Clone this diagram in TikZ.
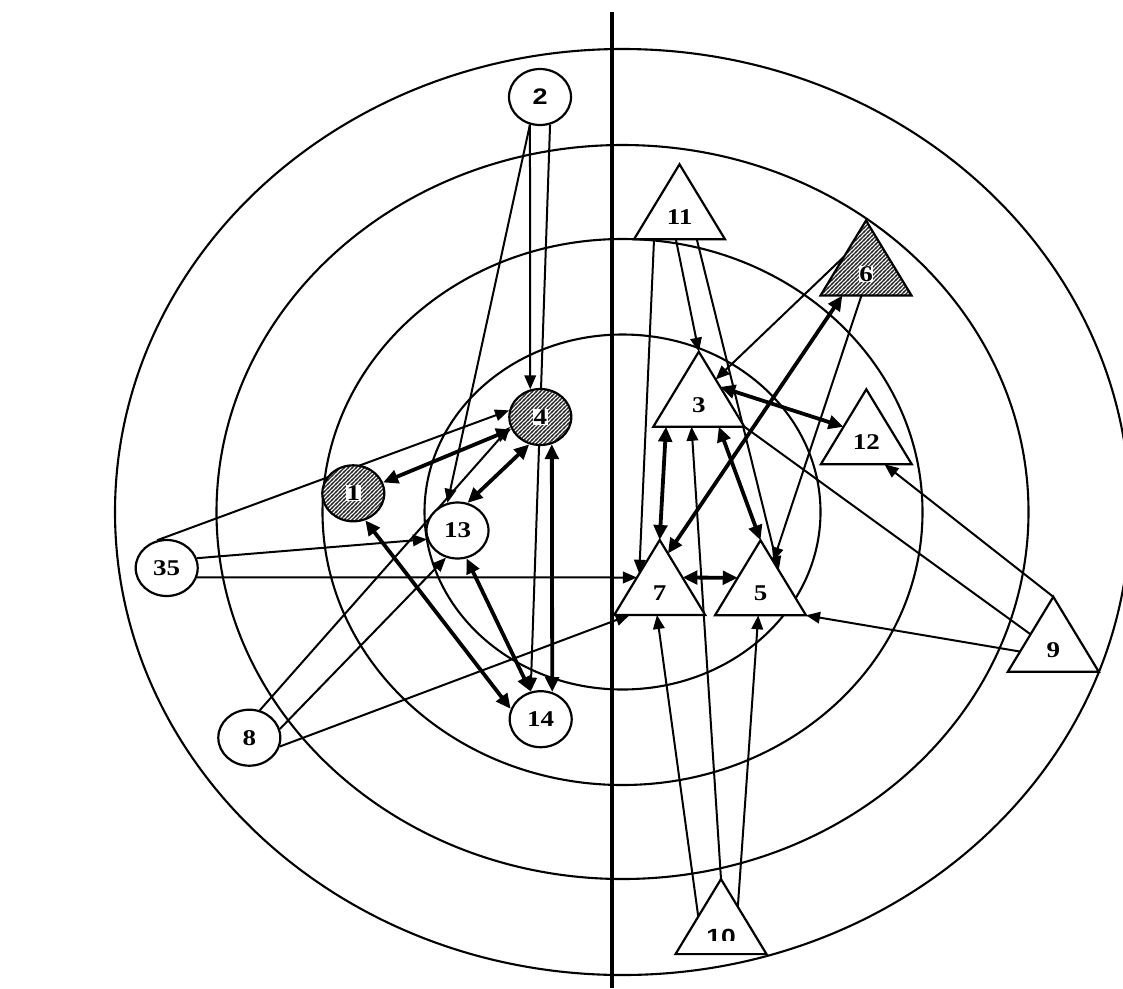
\documentclass[tikz,border=0pt]{standalone}
\usepackage{fontspec}
\setmainfont{Liberation Serif}
\newfontfamily\lblserif{Liberation Serif}[FakeStretch=1.2]
\newfontfamily\sansbf{Liberation Sans}[FakeStretch=1.2]
\usetikzlibrary{arrows.meta,shapes.geometric,patterns,calc}

\pgfdeclarepatternformonly{hatchne}{\pgfqpoint{-1pt}{-1pt}}{\pgfqpoint{5pt}{5pt}}{\pgfqpoint{4pt}{4pt}}{%
  \pgfsetlinewidth{1.2pt}%
  \pgfpathmoveto{\pgfqpoint{-1pt}{-1pt}}%
  \pgfpathlineto{\pgfqpoint{5pt}{5pt}}%
  \pgfusepath{stroke}%
}

\pgfdeclarelayer{bg}
\pgfdeclarelayer{mid}
\pgfsetlayers{bg,mid,main}

\newcommand\mytri[5]{%
  \node[tribox] (#1) at (#2,#3) {};
  \draw[#5] (#1.north) -- (#1.south east) -- (#1.south west) -- cycle;
}

\begin{document}
\begin{tikzpicture}[x=1pt,y=-1pt,
  lbl/.style={font=\lblserif\fontsize{22.5}{22.5}\selectfont\bfseries},
  circ/.style={ellipse,draw,line width=2.2pt,minimum width=62pt,minimum height=56pt,inner sep=0pt,lbl},
  wcirc/.style={circ,fill=white},
  hcirc/.style={circ,preaction={fill=white},pattern=hatchne,pattern color=black!85},
  wbox/.style={lbl,fill=white,inner sep=0.6pt},
  tribox/.style={rectangle,minimum width=91pt,minimum height=75pt,inner sep=0pt,outer sep=0pt},
  triline/.style={line width=2.2pt,line join=miter,fill=white},
  htriline/.style={line width=2.2pt,line join=miter,preaction={fill=white},pattern=hatchne,pattern color=black!85},
  tlbl/.style={lbl,anchor=base,inner sep=0pt},
  ring/.style={line width=2.1pt},
  thin/.style={line width=2pt,-{Triangle[length=14pt,width=11.5pt]}},
  thick/.style={line width=3.8pt,{Triangle[length=15pt,width=13.5pt]}-{Triangle[length=15pt,width=13.5pt]}},
  plainline/.style={line width=2pt}
]
\useasboundingbox (0,0) rectangle (1123,988);

\begin{pgfonlayer}{bg}
  \fill[white] (0,0) rectangle (1123,988);
  \draw[ring] (622.5,512) ellipse [x radius=198pt, y radius=177.5pt];
  \draw[ring] (622.5,512) ellipse [x radius=300pt, y radius=273pt];
  \draw[ring] (622.5,512) ellipse [x radius=406pt, y radius=367pt];
  \draw[ring] (622.5,512) ellipse [x radius=507.5pt, y radius=463pt];
  \draw[line width=4.6pt] (612,12) -- (612,988);
\end{pgfonlayer}

% circles
\node[wcirc] (c2) at (540,97) {\sansbf\bfseries 2};
\node[hcirc] (c4) at (540.3,417) {};
\node[wbox] (l4) at (c4) {4};
\node[hcirc] (c1) at (353.3,493.3) {};
\node[wbox] (l1) at (c1) {1};
\node[wcirc] (c13) at (457.5,530.5) {13};
\node[wcirc] (c35) at (166.7,568) {35};
\node[wcirc] (c8) at (249.3,737.7) {8};
\node[wcirc] (c14) at (540.7,719.2) {14};

% triangles
\mytri{t11}{679.5}{201.8}{11}{triline}
\node[tlbl] (l11) at ([yshift=14.5pt]t11.south) {11};
\mytri{t6}{866}{258}{6}{htriline}
\node[tlbl,fill=white,inner sep=0.6pt] (l6) at ([yshift=14.5pt]t6.south) {6};
\mytri{t3}{698.8}{389.2}{3}{triline}
\node[tlbl] (l3) at ([yshift=14.5pt]t3.south) {3};
\mytri{t12}{866.3}{426.8}{12}{triline}
\node[tlbl] (l12) at ([yshift=14.5pt]t12.south) {12};
\mytri{t5}{760.5}{577.8}{5}{triline}
\node[tlbl] (l5) at ([yshift=14.5pt]t5.south) {5};
\mytri{t7}{659.7}{577.5}{7}{triline}
\node[tlbl] (l7) at ([yshift=14.5pt]t7.south) {7};
\mytri{t9}{1053.3}{634.3}{9}{triline}
\node[tlbl] (l9) at ([yshift=14.5pt]t9.south) {9};
\mytri{t10}{721}{916.6}{10}{triline}
\begin{scope}
  \clip (650,900) rectangle (800,940);
  \node[tlbl,font=\sansbf\fontsize{22}{22}\selectfont\bfseries] (l10) at ([yshift=10pt]t10.south) {10};
\end{scope}

\begin{pgfonlayer}{mid}
  % thin arrows, left side
  \draw[thin] (c2.250) -- (c4.110);
  \draw[thin] (c2.290) -- (c14.110);
  \draw[thin] (c2.250) -- (c13.110);
  \draw[thin] (c35.109) -- (c4.168);
  \draw[thin] (c35.18) -- (c13.196);
  \draw[thin] (c35.343) -- ($(t7.north)!0.5!(t7.south west)$);
  \draw[thin] (c8.69) -- (c4.198);
  \draw[thin] (c8.16) -- (c13.247);
  \draw[thin] (c8.344) -- ($(t7.south west)!0.17!(t7.south east)$);
  % thin arrows, right side
  \draw[thin] ($(t11.south west)!0.22!(t11.south east)$) -- ($(t7.north)!0.45!(t7.south west)$);
  \draw[thin] ($(t11.south west)!0.46!(t11.south east)$) -- (t3.north);
  \draw[thin] ($(t11.south west)!0.69!(t11.south east)$) -- ($(t5.north)!0.4!(t5.south east)$);
  \draw[thin] ($(t6.north)!0.48!(t6.south west)$) -- ($(t3.north)!0.37!(t3.south east)$);
  \draw[thin] ($(t6.south west)!0.45!(t6.south east)$) -- ($(t5.north)!0.28!(t5.south east)$);
  \draw[thin] (t10.north) -- ($(t3.south west)!0.42!(t3.south east)$);
  \draw[thin] ($(t10.north)!0.5!(t10.south west)$) -- ($(t7.south west)!0.47!(t7.south east)$);
  \draw[thin] ($(t10.north)!0.37!(t10.south east)$) -- ($(t5.south west)!0.475!(t5.south east)$);
  \draw[thin] ($(t9.north)!0.73!(t9.south west)$) -- (t5.south east);
  \draw[thin] (t9.north) -- ($(t12.south west)!0.7!(t12.south east)$);
  \draw[plainline] (t3.south east) -- ($(t9.north)!0.5!(t9.south west)$);
  % thick double arrows
  \draw[thick] (c1.20) -- (c4.203);
  \draw[thick] (c4.248) -- (c13.70);
  \draw[thick] (c1.294) -- (c14.161);
  \draw[thick] (c13.288) -- (c14.110);
  \draw[thick] (c4.293) -- (c14.67);
  \draw[thick] ($(t3.north)!0.47!(t3.south east)$) -- ($(t12.north)!0.5!(t12.south west)$);
  \draw[thick] ($(t7.north)!0.18!(t7.south east)$) -- ($(t6.south west)!0.24!(t6.south east)$);
  \draw[thick] ($(t3.south west)!0.14!(t3.south east)$) -- (t7.north);
  \draw[thick] ($(t3.south west)!0.72!(t3.south east)$) -- (t5.north);
  \draw[thick] ($(t7.north)!0.5!(t7.south east)$) -- ($(t5.north)!0.5!(t5.south west)$);
\end{pgfonlayer}
\end{tikzpicture}
\end{document}
